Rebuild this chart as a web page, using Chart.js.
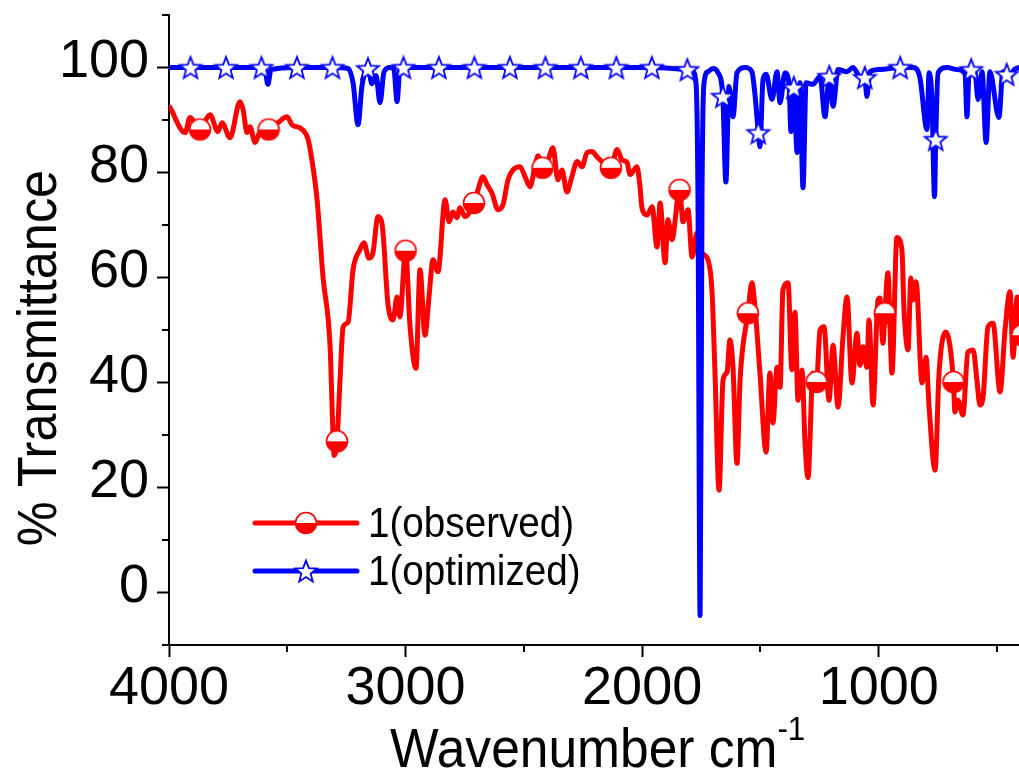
<!DOCTYPE html>
<html>
<head>
<meta charset="utf-8">
<title>IR spectrum - observed vs optimized</title>
<script src="https://cdn.jsdelivr.net/npm/chart.js@4.4.1/dist/chart.umd.min.js"></script>
<style>
    html, body { margin: 0; padding: 0; background: #fff; }
    #spectrumChart { display: block; }
</style>
</head>
<body>
<canvas id="spectrumChart" width="1019" height="778"></canvas>
<script>
// observed spectrum (cm-1, % T)
const obsWavenumber = [
    3996, 3932, 3911, 3869, 3827, 3793, 3776, 3742, 3700, 3687, 3670, 3658, 3636, 3615, 3579,
    3539, 3501, 3480, 3446, 3425, 3412, 3396, 3374, 3349, 3319, 3307, 3302, 3290, 3277, 3264,
    3243, 3222, 3193, 3176, 3155, 3138, 3117, 3100, 3074, 3053, 3036, 3024, 3000, 2981, 2956,
    2939, 2918, 2901, 2884, 2863, 2833, 2816, 2800, 2783, 2770, 2749, 2711, 2694, 2673, 2656,
    2635, 2609, 2588, 2567, 2546, 2516, 2495, 2474, 2453, 2440, 2421, 2398, 2377, 2356, 2339,
    2318, 2297, 2275, 2254, 2233, 2212, 2191, 2165, 2132, 2106, 2085, 2064, 2051, 2022, 2009,
    2001, 1979, 1958, 1937, 1924, 1903, 1891, 1874, 1842, 1827, 1806, 1789, 1768, 1747, 1722,
    1705, 1692, 1675, 1658, 1641, 1629, 1616, 1599, 1586, 1553, 1536, 1523, 1502, 1476, 1460,
    1447, 1430, 1417, 1405, 1383, 1367, 1354, 1341, 1324, 1312, 1299, 1278, 1263, 1248, 1231,
    1210, 1193, 1172, 1151, 1134, 1113, 1092, 1079, 1066, 1050, 1041, 1024, 1003, 995, 982,
    974, 961, 944, 923, 902, 893, 876, 864, 855, 842, 817, 800, 787, 762, 745,
    716, 684, 678, 665, 644, 623, 601, 585, 572, 559, 538, 517, 487, 466, 445,
    432, 415, 407, 394
];
const obsTransmittance = [
    92.4, 87.6, 90.5, 88.2, 91.0, 87.8, 89.5, 86.6, 93.5, 92.0, 87.6, 88.7, 85.7, 87.8, 88.2,
    89.5, 90.6, 89.1, 88.5, 87.6, 86.3, 82.4, 74.8, 60.1, 46.8, 30.3, 26.1, 28.8, 40.5, 50.6,
    51.5, 61.5, 65.3, 66.6, 63.7, 64.7, 71.6, 70.4, 54.8, 51.9, 56.3, 52.5, 65.1, 50.6, 42.7,
    61.5, 49.0, 56.3, 63.4, 61.1, 74.8, 70.6, 72.5, 71.4, 73.3, 71.6, 74.2, 76.7, 79.2, 77.7,
    76.1, 72.9, 73.9, 78.6, 80.5, 81.1, 79.2, 77.3, 81.1, 83.2, 80.9, 82.4, 84.7, 78.6, 80.5,
    76.3, 79.2, 82.1, 81.1, 83.8, 84.0, 83.0, 81.9, 80.9, 84.4, 82.4, 81.9, 79.6, 81.1, 77.3,
    73.3, 71.9, 73.5, 65.8, 74.2, 62.8, 71.0, 67.2, 76.7, 70.6, 72.9, 63.9, 68.5, 64.7, 63.4,
    57.6, 41.8, 19.5, 40.5, 42.0, 48.1, 42.9, 24.6, 40.5, 53.2, 59.0, 54.4, 41.8, 26.7, 41.8,
    32.3, 42.9, 39.1, 57.6, 59.0, 42.4, 53.4, 36.6, 42.4, 29.0, 21.9, 41.8, 40.1, 50.0, 50.6,
    36.6, 47.1, 35.3, 48.7, 56.3, 39.9, 49.4, 43.3, 46.8, 42.9, 51.9, 35.7, 55.7, 56.1, 47.5,
    53.2, 60.9, 41.8, 67.6, 65.3, 53.8, 46.2, 59.9, 55.7, 59.2, 39.9, 44.8, 35.3, 23.3, 41.8,
    49.6, 40.1, 34.4, 36.6, 33.8, 45.8, 46.2, 40.5, 35.7, 37.2, 50.6, 51.3, 38.2, 50.0, 57.3,
    44.8, 56.3, 50.6, 49.0
];
const obsMarkerWavenumber = [3869, 3579, 3290, 3000, 2711, 2421, 2132, 1842, 1553, 1263, 974, 684, 394];

// optimized (calculated) spectrum
const optWavenumber = [
    4000, 3909, 3759, 3609, 3594, 3582, 3569, 3459, 3309, 3243, 3222, 3201, 3184, 3159, 3142,
    3125, 3108, 3091, 3066, 3049, 3036, 3024, 3009, 2859, 2709, 2559, 2409, 2259, 2109, 1959,
    1809, 1785, 1772, 1764, 1755, 1747, 1739, 1722, 1700, 1679, 1659, 1646, 1633, 1616, 1599,
    1565, 1536, 1523, 1509, 1502, 1489, 1476, 1451, 1430, 1417, 1396, 1379, 1371, 1359, 1345,
    1333, 1320, 1307, 1278, 1248, 1227, 1209, 1193, 1172, 1134, 1109, 1079, 1059, 1050, 1037,
    995, 909, 855, 826, 796, 787, 775, 764, 759, 749, 711, 669, 635, 627, 618,
    609, 593, 580, 563, 546, 530, 492, 475, 459, 445, 428, 407
];
const optTransmittance = [
    100, 100, 100, 100, 99.6, 96.8, 99.6, 100, 100, 99.8, 97.1, 89.1, 96.6, 99.8, 96.9,
    98.5, 93.3, 99.2, 100, 99.6, 93.5, 99.6, 100, 100, 100, 100, 100, 100, 100, 100,
    99.6, 99.2, 96.8, 74.8, -4.4, 74.8, 96.8, 99.2, 99.8, 99.0, 94.5, 78.2, 96.4, 90.6, 99.0,
    100, 99.2, 94.8, 87.6, 84.9, 97.7, 98.7, 93.9, 99.2, 93.3, 99.0, 96.8, 87.8, 96.2, 83.8,
    97.1, 77.1, 97.1, 96.8, 98.3, 90.6, 98.3, 92.6, 99.6, 99.2, 100, 98.3, 98.1, 94.5, 99.2,
    99.6, 100, 100, 98.1, 88.2, 99.0, 93.9, 75.4, 86.3, 99.0, 100, 99.6, 98.7, 90.6, 99.2,
    99.6, 99.2, 93.9, 99.2, 85.7, 99.2, 90.5, 99.2, 98.7, 98.3, 99.6, 100
];
const optMarkerWavenumber = [
    3909, 3759, 3609, 3459, 3309, 3159, 3009, 2859, 2709, 2559, 2409, 2259,
    2109, 1959, 1809, 1659, 1509, 1359, 1209, 1059, 909, 759, 609, 459
];

const xTickValues = [4000, 3500, 3000, 2500, 2000, 1500, 1000, 500];
const yTickValues = [-10, 0, 10, 20, 30, 40, 50, 60, 70, 80, 90, 100, 110];
const seriesLabels = ['1(observed)', '1(optimized)'];
const xTitle = 'Wavenumber cm';
const xTitleSup = '-1';
const yTitle = '% Transmittance';

const FONT = '"Liberation Sans", Arial, Helvetica, sans-serif';

class SpectrumChart {
    constructor() {
        this.markers = {
            observed: this.makeHalfDisc('#ff0000'),
            optimized: this.makeStar('#0000ff')
        };
        this.chart = new Chart(
            document.getElementById('spectrumChart').getContext('2d'),
            this.getChartConfig()
        );
    }

    // circle, white on top, filled on the bottom half
    makeHalfDisc(color) {
        const c = document.createElement('canvas');
        c.width = c.height = 26;
        const g = c.getContext('2d');
        g.beginPath();
        g.arc(13, 13, 10.5, 0, Math.PI * 2);
        g.fillStyle = '#fff';
        g.fill();
        g.beginPath();
        g.arc(13, 13, 10.5, 0, Math.PI);
        g.closePath();
        g.fillStyle = color;
        g.fill();
        g.beginPath();
        g.arc(13, 13, 10.5, 0, Math.PI * 2);
        g.lineWidth = 1.6;
        g.strokeStyle = color;
        g.stroke();
        return c;
    }

    // open five point star
    makeStar(color) {
        const c = document.createElement('canvas');
        c.width = c.height = 30;
        const g = c.getContext('2d');
        const cx = 15, cy = 16.1, R = 11.5, r = 4.9;
        g.beginPath();
        for (let i = 0; i < 10; i++) {
            const rad = i % 2 === 0 ? R : r;
            const a = -Math.PI / 2 + i * Math.PI / 5;
            const x = cx + rad * Math.cos(a);
            const y = cy + rad * Math.sin(a);
            if (i === 0) g.moveTo(x, y); else g.lineTo(x, y);
        }
        g.closePath();
        g.fillStyle = '#fff';
        g.fill();
        g.lineWidth = 1.8;
        g.strokeStyle = color;
        g.stroke();
        return c;
    }

    toPoints(xs, ys) {
        return xs.map((x, i) => ({ x: x, y: ys[i] }));
    }

    getDataset(label, xs, ys, markerXs, color, marker, order) {
        const markerSet = new Set(markerXs);
        return {
            label: label,
            data: this.toPoints(xs, ys),
            borderColor: color,
            backgroundColor: color,
            borderWidth: 5,
            borderJoinStyle: 'round',
            borderCapStyle: 'round',
            cubicInterpolationMode: 'monotone',
            fill: false,
            pointStyle: marker,
            pointRadius: (ctx) => (ctx.raw && markerSet.has(ctx.raw.x)) ? 10 : 0,
            pointHoverRadius: 0,
            order: order
        };
    }

    getTickFont() {
        return { family: FONT, size: 54 };
    }

    getChartConfig() {
        return {
            type: 'line',
            data: {
                datasets: [
                    this.getDataset(seriesLabels[1], optWavenumber, optTransmittance,
                        optMarkerWavenumber, '#0000ff', this.markers.optimized, 0),
                    this.getDataset(seriesLabels[0], obsWavenumber, obsTransmittance,
                        obsMarkerWavenumber, '#ff0000', this.markers.observed, 1)
                ]
            },
            options: {
                responsive: false,
                animation: false,
                devicePixelRatio: 1,
                events: [],
                layout: {
                    autoPadding: false,
                    padding: { top: 15, right: 0, bottom: 0, left: 0 }
                },
                plugins: {
                    legend: { display: false },
                    tooltip: { enabled: false }
                },
                scales: {
                    x: {
                        type: 'linear',
                        reverse: true,
                        min: 407,
                        max: 4000,
                        afterBuildTicks: (s) => { s.ticks = xTickValues.map(v => ({ value: v })); },
                        afterFit: (s) => { s.height = 133; s.paddingLeft = 0; s.paddingRight = 0; },
                        border: { display: true, color: '#000', width: 2 },
                        grid: {
                            drawOnChartArea: false,
                            drawTicks: true,
                            tickLength: 12,
                            tickWidth: 2,
                            tickColor: (ctx) => (ctx.tick && ctx.tick.value % 1000 === 0) ? '#000' : 'rgba(0,0,0,0)'
                        },
                        ticks: {
                            autoSkip: false,
                            maxRotation: 0,
                            padding: 0,
                            color: '#000',
                            font: this.getTickFont(),
                            callback: (v) => v % 1000 === 0 ? String(v) : ''
                        }
                    },
                    y: {
                        min: -10,
                        max: 110,
                        afterBuildTicks: (s) => { s.ticks = yTickValues.map(v => ({ value: v })); },
                        afterFit: (s) => { s.width = 169; s.paddingTop = 0; s.paddingBottom = 0; },
                        border: { display: true, color: '#000', width: 2 },
                        grid: {
                            drawOnChartArea: false,
                            drawTicks: true,
                            tickLength: 12,
                            tickWidth: 2,
                            tickColor: (ctx) => (ctx.tick && ctx.tick.value % 20 === 0) ? '#000' : 'rgba(0,0,0,0)'
                        },
                        ticks: {
                            autoSkip: false,
                            padding: 8,
                            labelOffset: -5,
                            color: '#000',
                            font: this.getTickFont(),
                            callback: (v) => v % 20 === 0 ? String(v) : ''
                        }
                    }
                }
            },
            plugins: [this.getDecorPlugin()]
        };
    }

    getDecorPlugin() {
        const markers = this.markers;
        return {
            id: 'spectrumDecor',
            afterDraw(chart) {
                const ctx = chart.ctx;
                const xs = chart.scales.x;
                const ys = chart.scales.y;

                // short minor ticks
                ctx.save();
                ctx.strokeStyle = '#000';
                ctx.lineWidth = 2;
                ctx.beginPath();
                xTickValues.filter(v => v % 1000 !== 0).forEach(v => {
                    const px = Math.round(xs.getPixelForValue(v));
                    ctx.moveTo(px, xs.top);
                    ctx.lineTo(px, xs.top + 7);
                });
                yTickValues.filter(v => v % 20 !== 0).forEach(v => {
                    const py = Math.round(ys.getPixelForValue(v));
                    ctx.moveTo(ys.right, py);
                    ctx.lineTo(ys.right - 7, py);
                });
                ctx.stroke();
                ctx.restore();

                // axis titles
                ctx.save();
                ctx.fillStyle = '#000';
                ctx.textBaseline = 'alphabetic';
                ctx.textAlign = 'left';
                ctx.translate(390, 767);
                ctx.scale(0.92, 1);
                ctx.font = '56px ' + FONT;
                ctx.fillText(xTitle, 0, 0);
                const w = ctx.measureText(xTitle).width;
                ctx.font = '34px ' + FONT;
                ctx.fillText(xTitleSup, w, -27);
                ctx.restore();

                ctx.save();
                ctx.fillStyle = '#000';
                ctx.textBaseline = 'alphabetic';
                ctx.textAlign = 'center';
                ctx.translate(56, 358);
                ctx.rotate(-Math.PI / 2);
                ctx.scale(0.9, 1);
                ctx.font = '56px ' + FONT;
                ctx.fillText(yTitle, 0, 0);
                ctx.restore();

                // legend box inside the plot
                const rows = [
                    { y: 523, base: 537, color: '#ff0000', marker: markers.observed, text: seriesLabels[0] },
                    { y: 571, base: 585, color: '#0000ff', marker: markers.optimized, text: seriesLabels[1] }
                ];
                rows.forEach(row => {
                    ctx.save();
                    ctx.strokeStyle = row.color;
                    ctx.lineWidth = 5;
                    ctx.lineCap = 'round';
                    ctx.beginPath();
                    ctx.moveTo(255, row.y);
                    ctx.lineTo(357, row.y);
                    ctx.stroke();
                    ctx.drawImage(row.marker, 306 - row.marker.width / 2, row.y - row.marker.height / 2);
                    ctx.fillStyle = '#000';
                    ctx.textAlign = 'left';
                    ctx.textBaseline = 'alphabetic';
                    ctx.translate(368, row.base);
                    ctx.scale(0.92, 1);
                    ctx.font = '42px ' + FONT;
                    ctx.fillText(row.text, 0, 0);
                    ctx.restore();
                });
            }
        };
    }
}

document.addEventListener('DOMContentLoaded', () => {
    new SpectrumChart();
});
</script>
</body>
</html>
